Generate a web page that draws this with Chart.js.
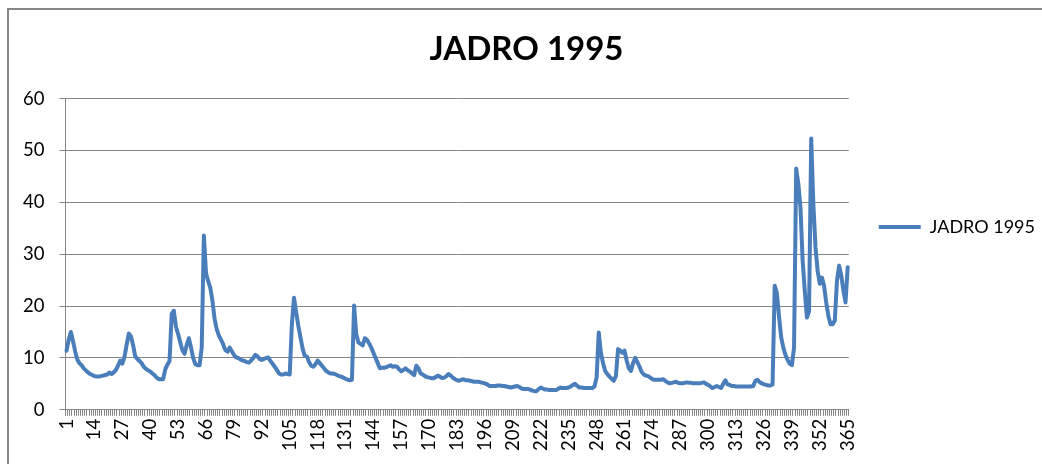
<!DOCTYPE html>
<html>
<head>
<meta charset="utf-8">
<script src="https://cdn.jsdelivr.net/npm/chart.js@4.4.0/dist/chart.umd.min.js"></script>
<style>
html,body{margin:0;padding:0;background:#fff;overflow:hidden}
#wrap{position:relative;width:1042px;height:464px}
</style>
</head>
<body>
<div id="wrap"><canvas id="c" width="1042" height="464"></canvas></div>
<script>
// ---- data ----
const seriesName = 'JADRO 1995';
const dayLabels = [];
for (let d = 1; d <= 365; d++) dayLabels.push(String(d));
const labelEvery = 13;
const yTickValues = [0, 10, 20, 30, 40, 50, 60];

const jadro1995 = [
  11.4, 13.5, 15.0, 13.3, 11.3, 9.7, 9.0, 8.6, 8.0, 7.6,
  7.2, 6.9, 6.7, 6.5, 6.4, 6.4, 6.5, 6.6, 6.7, 6.8,
  7.2, 6.9, 7.2, 7.7, 8.5, 9.5, 8.9, 10.2, 12.5, 14.7,
  14.2, 12.5, 10.3, 9.8, 9.4, 9.0, 8.3, 7.9, 7.6, 7.4,
  7.0, 6.7, 6.2, 5.9, 5.9, 5.9, 7.8, 8.7, 9.4, 18.5,
  19.1, 16.0, 14.6, 13.0, 11.5, 10.8, 12.5, 13.8, 12.0, 10.0,
  8.8, 8.6, 8.6, 12.0, 33.6, 26.3, 24.8, 23.5, 21.0, 17.5,
  15.5, 14.3, 13.5, 12.6, 11.5, 11.2, 12.0, 11.3, 10.6, 10.1,
  10.0, 9.7, 9.5, 9.4, 9.2, 9.1, 9.5, 10.0, 10.6, 10.3,
  9.8, 9.6, 9.8, 10.0, 10.1, 9.4, 8.9, 8.3, 7.7, 7.0,
  6.8, 6.8, 7.0, 6.9, 6.8, 16.5, 21.6, 18.8, 16.2, 14.0,
  11.8, 10.4, 10.3, 9.2, 8.5, 8.3, 8.8, 9.5, 9.0, 8.5,
  8.0, 7.5, 7.2, 7.0, 7.0, 6.9, 6.7, 6.5, 6.4, 6.2,
  6.0, 5.8, 5.7, 5.8, 20.1, 14.6, 13.0, 12.7, 12.4, 13.8,
  13.5, 12.8, 12.0, 11.0, 10.0, 9.0, 8.0, 8.1, 8.1, 8.2,
  8.4, 8.6, 8.3, 8.4, 8.3, 7.8, 7.4, 7.7, 8.0, 7.6,
  7.4, 7.0, 6.7, 8.5, 8.0, 7.0, 6.8, 6.5, 6.3, 6.2,
  6.1, 6.1, 6.3, 6.6, 6.4, 6.1, 6.2, 6.5, 6.9, 6.6,
  6.2, 5.9, 5.7, 5.6, 5.8, 5.9, 5.7, 5.7, 5.6, 5.5,
  5.4, 5.4, 5.4, 5.3, 5.2, 5.1, 4.9, 4.6, 4.6, 4.6,
  4.6, 4.7, 4.7, 4.6, 4.6, 4.5, 4.4, 4.3, 4.4, 4.5,
  4.6, 4.4, 4.1, 4.0, 4.0, 4.0, 3.9, 3.7, 3.6, 3.6,
  4.0, 4.3, 4.1, 3.9, 3.9, 3.8, 3.8, 3.8, 3.8, 4.0,
  4.3, 4.2, 4.2, 4.2, 4.3, 4.5, 4.8, 5.0, 4.6, 4.3,
  4.3, 4.2, 4.2, 4.2, 4.2, 4.2, 4.5, 6.2, 14.9, 11.0,
  9.0, 7.5, 6.9, 6.4, 6.0, 5.6, 6.5, 11.7, 11.4, 11.0,
  11.4, 9.5, 8.0, 7.5, 9.0, 10.0, 9.2, 8.3, 7.3, 6.8,
  6.6, 6.5, 6.2, 5.9, 5.8, 5.8, 5.8, 5.8, 5.9, 5.6,
  5.3, 5.1, 5.2, 5.3, 5.4, 5.2, 5.1, 5.1, 5.2, 5.3,
  5.2, 5.2, 5.1, 5.1, 5.1, 5.1, 5.2, 5.3, 5.0, 4.8,
  4.5, 4.2, 4.4, 4.6, 4.4, 4.2, 5.0, 5.7, 4.9, 4.8,
  4.6, 4.6, 4.5, 4.5, 4.5, 4.5, 4.5, 4.5, 4.5, 4.5,
  4.6, 5.6, 5.8, 5.3, 5.1, 4.9, 4.8, 4.7, 4.7, 4.9,
  23.9, 22.5, 18.0, 14.0, 12.0, 10.6, 9.6, 8.9, 8.6, 12.0,
  46.5, 43.6, 39.0, 28.8, 23.0, 17.8, 19.0, 52.3, 39.7, 31.3,
  26.8, 24.3, 25.5, 23.9, 20.7, 18.1, 16.5, 16.5, 17.2, 24.9,
  27.8, 25.9, 23.0, 20.7, 27.5
];

// ---- style ----
const LINE = '#4A7EBB';
const GRID = '#868686';
const FONT = 'Lato';

const framePlugin = {
  id: 'frame',
  beforeDraw(chart) {
    const ctx = chart.ctx;
    ctx.save();
    ctx.fillStyle = '#fff';
    ctx.fillRect(0, 0, chart.width, chart.height);
    ctx.strokeStyle = GRID;
    ctx.lineWidth = 2;
    ctx.beginPath();
    ctx.moveTo(8, chart.height + 5);
    ctx.lineTo(8, 9);
    ctx.lineTo(chart.width + 5, 9);
    ctx.stroke();
    ctx.restore();
  }
};

new Chart(document.getElementById('c'), {
  type: 'line',
  data: {
    labels: dayLabels,
    datasets: [{
      label: seriesName,
      data: jadro1995,
      borderColor: LINE,
      backgroundColor: LINE,
      borderWidth: 4,
      pointRadius: 0,
      pointHoverRadius: 0,
      tension: 0,
      fill: false,
      borderJoinStyle: 'round',
      borderCapStyle: 'round'
    }]
  },
  options: {
    responsive: false,
    animation: false,
    devicePixelRatio: 1,
    layout: { padding: { left: 8, right: -3, top: 0, bottom: 10 } },
    plugins: {
      tooltip: { enabled: false },
      title: {
        display: true,
        text: seriesName,
        color: '#000',
        font: { family: FONT, size: 33, weight: 'bold', lineHeight: 1.2 },
        padding: { top: 30, bottom: 29 }
      },
      legend: {
        display: true,
        position: 'right',
        labels: {
          usePointStyle: true,
          pointStyle: 'line',
          pointStyleWidth: 42,
          boxWidth: 42,
          boxHeight: 4,
          padding: 30,
          color: '#000',
          font: { family: FONT, size: 18 }
        }
      }
    },
    scales: {
      x: {
        offset: true,
        grid: { display: true, drawOnChartArea: false, drawTicks: true, tickLength: 6, offset: true, color: GRID },
        border: { display: true, color: GRID, width: 1 },
        ticks: {
          autoSkip: false,
          minRotation: 90,
          maxRotation: 90,
          padding: 3,
          color: '#000',
          font: { family: FONT, size: 18.5 },
          callback: function (v, i) { return i % labelEvery === 0 ? this.getLabelForValue(v) : ''; }
        }
      },
      y: {
        min: yTickValues[0],
        max: yTickValues[yTickValues.length - 1],
        grid: { color: GRID, tickLength: 6 },
        border: { display: true, color: GRID, width: 1 },
        ticks: {
          stepSize: yTickValues[1] - yTickValues[0],
          padding: 15,
          color: '#000',
          font: { family: FONT, size: 18.5 }
        }
      }
    }
  },
  plugins: [framePlugin]
});
</script>
</body>
</html>
